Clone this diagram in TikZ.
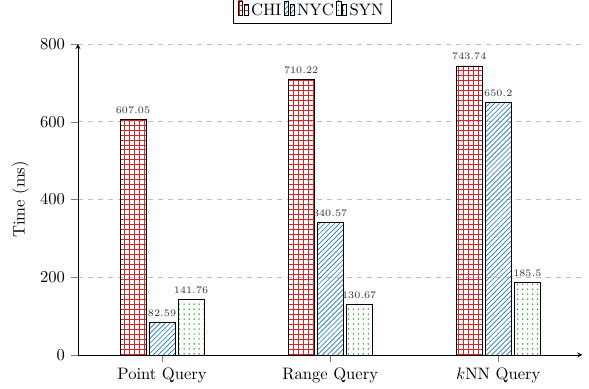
\documentclass[tikz,border=0pt]{standalone}
\usepackage{tikz}
\usetikzlibrary{patterns}
\usepackage{pgfplots}
\pgfplotsset{compat=1.18}
\definecolor{chired}{HTML}{D62728}
\definecolor{nycblue}{HTML}{1F77B4}
\definecolor{syngreen}{HTML}{2CA02C}

\begin{document}
\begin{tikzpicture}
  \useasboundingbox (-47pt,-20.4pt) rectangle (308pt,213.9pt);
  \begin{axis}[
    scale only axis, width=304pt, height=187.4pt,
    ybar=2pt, bar width=15.5pt,
    xmin=-0.5, xmax=2.5, ymin=0, ymax=800,
    xtick={0,1,2}, xticklabels={Point Query,Range Query,$k$NN Query},
    ytick={0,200,...,800},
    axis lines=left, tick align=outside,
    ymajorgrids, grid style={dashed,gray!50},
    ylabel={Time (ms)},
    nodes near coords,
    every node near coord/.append style={font=\fontsize{6}{7}\selectfont\ttfamily,black!80},
    legend image code/.code={%
      \draw[#1] (0pt,-0.3em) rectangle (2.5pt,0.6em);
      \draw[#1] (3.5pt,-0.3em) rectangle (6pt,0.4em);},
    legend style={at={(0.464,1.064)},anchor=south,legend columns=-1,draw=black,
      nodes={inner sep=1.5pt}},
  ]
    \addplot[draw=black,pattern=grid,pattern color=chired] coordinates {(0,607.05) (1,710.22) (2,743.74)};
    \addplot[draw=black,pattern=north east lines,pattern color=nycblue] coordinates {(0,82.59) (1,340.57) (2,650.2)};
    \addplot[draw=black,pattern=dots,pattern color=syngreen] coordinates {(0,141.76) (1,130.67) (2,185.5)};
    \legend{CHI,NYC,SYN}
  \end{axis}
\end{tikzpicture}
\end{document}
